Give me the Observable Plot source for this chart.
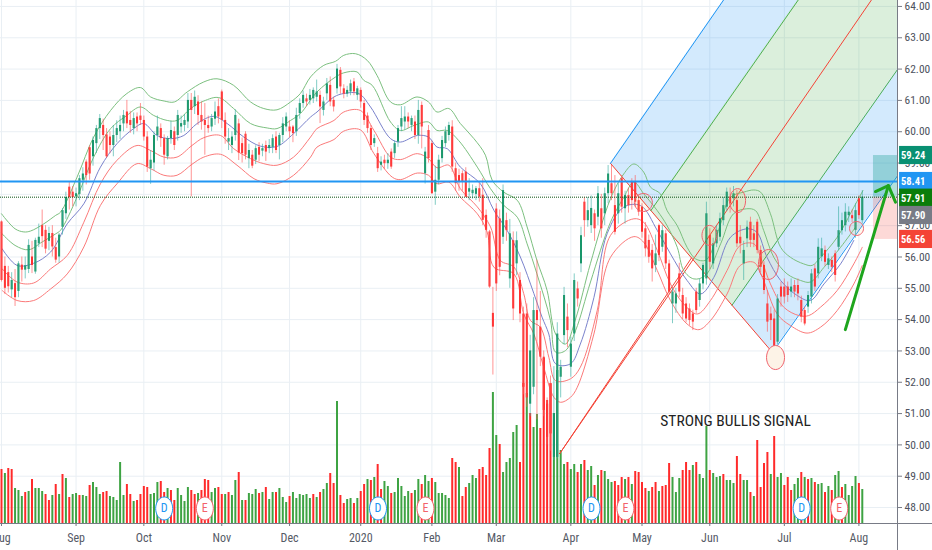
<!DOCTYPE html>
<html><head><meta charset="utf-8">
<script src="https://cdn.jsdelivr.net/npm/d3@7"></script>
<script src="https://cdn.jsdelivr.net/npm/@observablehq/plot@0.6"></script>
<style>html,body{margin:0;padding:0;background:#fff;overflow:hidden}svg{display:block}</style>
</head><body><div id="c"></div>
<script>
const tickIdx=[0,22,42,65,85,106,127,146,168,189,209,231,253];
const tickLabels=["Aug","Sep","Oct","Nov","Dec","2020","Feb","Mar","Apr","May","Jun","Jul","Aug"];
const priceTicks=[48,49,50,51,52,53,54,55,56,57,58,59,60,61,62,63,64];
const opens=[57.12,55.7,55.5,54.95,55.15,54.9,55.74,55.58,55.6,56.0,55.52,56.42,57.0,56.85,56.5,56.75,56.3,56.0,56.95,57.38,
58.23,58.07,57.92,58.0,58.45,59.03,59.49,59.2,59.62,60.1,60.2,59.9,59.83,59.56,59.88,60.0,60.25,60.63,60.36,60.1,
60.47,60.5,60.36,59.83,58.82,59.0,59.88,60.1,59.78,59.2,59.78,60.0,59.88,60.15,60.2,60.31,61.0,60.8,60.95,60.52,
60.36,60.2,60.15,60.4,60.8,61.27,60.36,59.67,59.56,59.88,60.25,59.62,59.92,59.14,59.25,59.09,59.5,59.38,59.56,59.46,
59.5,59.83,59.56,59.88,60.15,60.15,60.15,60.0,60.58,60.9,61.05,61.0,61.05,61.1,61.16,60.68,61.21,61.48,61.0,61.37,
61.96,61.37,61.2,61.27,61.59,61.16,61.32,60.9,60.5,60.1,59.62,59.3,58.93,59.09,58.98,59.35,59.3,59.67,60.15,60.31,
60.47,60.2,60.31,59.88,60.84,58.66,60.04,59.62,58.07,58.45,59.14,59.62,59.88,60.15,58.82,58.6,58.66,58.71,58.07,58.02,
58.0,58.18,57.97,57.33,56.8,54.2,57.53,57.22,56.63,57.16,55.3,56.52,55.78,55.25,54.18,54.18,51.3,51.84,54.29,53.76,
52.8,51.3,51.95,49.6,49.6,52.16,53.49,54.08,52.48,53.54,54.98,55.78,57.75,57.16,57.0,57.38,57.27,57.54,57.38,58.02,
58.34,57.64,57.38,58.5,57.54,57.96,58.39,58.39,57.8,57.59,56.9,56.53,56.21,55.73,57.0,56.31,56.74,55.78,54.5,54.5,
55.46,54.77,54.5,54.34,54.18,54.88,54.61,55.14,55.3,56.69,55.78,56.42,56.63,57.16,57.59,57.91,57.86,57.8,56.63,55.78,
56.58,57.11,56.74,57.11,56.21,55.73,54.5,54.18,54.02,53.28,55.04,55.04,55.04,54.88,55.09,55.09,54.61,54.29,54.4,54.72,
55.62,55.46,56.0,56.21,55.73,55.89,56.1,56.31,56.84,57.0,57.32,57.32,56.85,57.86,57.16];
const closes=[55.25,55.0,55.05,55.25,54.7,55.78,55.58,55.72,56.37,55.73,56.53,56.63,56.65,56.25,56.75,56.32,55.9,56.7,57.48,57.9,
57.9,57.9,58.02,58.5,58.65,58.6,58.65,59.72,60.1,60.42,59.88,59.2,59.56,59.88,60.1,60.2,60.52,60.25,60.2,60.42,
60.25,60.36,59.83,58.87,59.09,59.88,60.15,59.78,59.25,59.78,60.04,59.56,60.52,60.26,60.36,61.0,60.68,61.1,60.52,60.31,
60.2,60.1,60.42,60.63,60.47,60.36,59.83,59.78,59.83,60.52,59.32,59.3,59.25,59.4,58.9,59.46,59.25,59.46,59.35,59.56,
59.78,59.4,59.88,60.25,60.47,60.0,59.94,60.52,60.9,61.16,60.95,61.16,61.32,61.27,60.79,60.95,61.53,60.95,60.79,62.0,
61.43,61.2,61.32,61.53,61.27,61.37,60.95,60.36,60.1,59.56,59.78,58.82,59.03,58.98,59.09,58.87,59.62,60.1,60.42,60.47,
60.31,60.42,59.88,60.68,60.15,59.35,59.14,58.02,58.45,59.09,59.72,60.0,60.2,58.87,58.34,58.4,58.4,57.91,58.18,58.13,
58.18,57.91,57.17,56.85,55.04,53.76,55.14,55.67,58.12,56.84,56.74,54.34,56.52,54.18,51.84,51.5,53.0,54.29,53.97,52.8,
51.1,50.24,50.35,51.0,53.54,52.48,54.77,53.65,53.22,55.25,54.66,56.68,57.16,57.48,57.55,56.9,58.02,56.9,58.02,58.65,
58.02,56.79,58.02,57.59,57.96,57.64,57.8,57.75,57.43,56.79,56.26,55.99,55.62,56.1,56.05,56.84,55.78,54.88,54.88,54.82,
54.88,54.18,54.02,53.97,53.92,54.29,55.14,55.73,57.38,55.83,56.42,56.85,57.22,57.64,58.07,57.7,58.02,56.42,56.42,56.21,
56.95,56.53,56.53,56.21,55.67,54.93,53.92,53.97,53.12,54.66,54.72,54.72,54.77,55.04,54.88,54.82,54.08,53.86,54.77,55.46,
55.04,56.31,56.26,55.83,55.94,55.67,55.41,56.84,57.16,57.43,57.43,57.22,57.48,57.32,57.91];
const highs=[57.15,56.0,55.7,55.5,55.6,55.85,56.0,56.0,56.55,56.5,56.6,57.05,57.5,57.0,56.95,57.0,56.6,56.75,57.55,58.07,
58.4,58.25,58.2,58.6,58.85,59.1,59.55,59.83,60.2,60.55,60.4,60.1,60.0,60.2,60.35,60.5,60.68,61.0,60.65,60.6,
60.6,60.9,60.5,60.0,59.4,60.0,60.5,60.25,59.9,59.85,60.33,60.15,60.68,60.5,60.55,61.22,61.22,61.3,61.15,60.95,
60.9,60.5,60.55,60.95,61.05,61.33,60.6,60.1,60.0,60.7,60.4,59.8,60.0,59.6,59.4,59.55,59.65,59.6,59.7,59.75,
59.9,60.0,59.95,60.45,60.6,60.35,60.2,60.75,61.05,61.3,61.2,61.35,61.4,61.65,61.3,61.1,61.7,61.75,61.1,62.15,
62.05,61.5,61.45,61.65,61.7,61.45,61.4,61.0,60.6,60.2,59.9,59.5,59.2,59.25,59.3,59.45,59.7,60.2,60.8,60.8,
60.6,60.5,60.5,61.0,60.95,59.5,60.2,59.7,58.9,59.25,59.85,60.15,60.3,60.35,59.0,58.8,58.75,58.85,58.5,58.3,
58.25,58.35,58.5,57.5,56.85,55.03,57.7,57.5,58.3,57.4,57.2,56.8,56.8,55.5,54.4,54.5,53.5,54.7,55.9,54.9,
53.0,51.5,52.2,52.5,53.9,52.7,55.03,54.5,53.44,55.46,55.2,56.95,57.9,57.9,57.95,57.5,58.25,58.0,58.2,58.92,
58.92,58.6,58.34,58.6,58.1,58.2,58.5,58.6,57.9,57.7,57.1,56.7,56.4,56.7,57.05,57.0,56.85,55.9,55.0,55.0,
55.8,55.0,54.7,54.5,54.3,55.0,55.3,55.8,57.75,56.9,56.6,57.0,57.4,57.9,58.2,58.2,58.25,58.12,57.0,56.5,
57.15,57.27,57.0,57.2,56.35,55.85,54.93,54.4,54.3,54.8,55.2,55.3,55.2,55.3,55.25,55.3,54.75,54.4,54.9,55.6,
55.75,56.58,56.6,56.35,56.1,56.0,56.2,57.6,57.4,57.7,57.6,57.5,57.7,57.95,58.12];
const lows=[55.2,54.8,54.85,54.7,54.42,54.7,55.2,55.3,55.47,55.47,55.45,56.3,56.3,56.1,56.2,56.0,55.8,55.8,56.7,57.2,
57.5,57.6,57.6,57.8,58.1,58.3,58.45,58.9,59.3,59.75,59.4,59.15,59.3,59.2,59.65,59.75,60.0,60.1,59.95,59.9,
60.0,60.2,59.7,58.7,58.32,58.75,59.7,59.5,58.93,59.1,59.6,59.4,59.7,59.95,60.0,60.1,57.92,60.55,60.2,60.05,
59.25,59.95,60.0,60.2,60.25,60.1,59.6,59.4,59.3,59.7,59.08,59.0,59.1,58.82,58.82,58.95,59.05,59.2,59.05,59.3,
59.3,59.3,59.1,59.65,60.0,59.8,59.65,59.85,60.4,60.75,60.8,60.85,60.9,60.95,60.26,60.5,61.0,60.8,60.63,61.2,
61.2,61.05,61.1,61.15,61.15,61.0,60.75,60.2,59.95,59.4,59.5,58.7,58.75,58.8,58.8,58.8,59.15,59.5,60.0,60.05,
60.1,60.0,59.75,59.6,59.45,58.33,59.0,58.0,57.65,58.3,59.0,59.5,59.7,58.7,58.1,58.1,58.1,57.9,57.8,57.85,
57.8,57.75,57.0,56.6,55.0,52.23,54.9,55.4,56.4,56.5,55.0,53.97,55.4,53.9,51.6,51.2,50.9,51.6,50.8,52.5,
50.9,50.0,49.8,49.5,49.55,51.5,53.2,53.1,52.16,53.3,54.4,55.5,56.63,56.95,56.75,56.5,57.0,56.6,57.0,57.7,
57.8,56.7,57.05,57.4,57.05,57.4,57.5,57.6,57.3,56.6,56.0,55.8,55.2,55.5,55.85,56.15,55.6,54.8,53.87,54.2,
54.7,54.0,53.9,53.8,53.65,54.2,54.4,54.95,55.1,55.6,55.6,56.3,56.5,57.0,57.45,57.4,57.6,56.3,56.1,55.25,
56.3,56.3,56.3,56.1,55.5,54.8,53.6,53.33,52.95,53.2,54.4,54.5,54.55,54.7,54.7,54.6,53.9,53.8,54.2,54.5,
54.9,55.3,55.85,55.7,55.6,55.5,55.2,56.2,56.7,56.8,57.1,57.1,56.6,57.2,57.05];
const volumes=[54,50,55,54,35,33,27,31,32,44,35,35,32,29,23,28,39,29,49,45,26,29,30,28,28,27,38,41,36,29,31,32,27,26,23,61,28,39,29,22,23,29,37,36,29,30,41,42,31,35,33,23,35,28,22,36,33,29,30,33,44,43,31,35,36,29,29,31,28,43,51,23,23,30,29,34,30,31,36,24,31,31,35,26,21,27,31,25,29,28,29,25,
29,26,31,34,40,50,40,122,28,20,24,25,20,25,32,39,44,43,46,59,34,42,37,30,31,45,37,27,32,30,33,44,39,48,42,45,41,30,30,28,25,65,61,56,27,36,40,48,45,54,56,48,75,131,88,79,51,61,65,91,98,61,
140,130,110,96,109,95,165,123,140,110,153,73,59,61,54,59,51,59,63,53,57,38,48,53,52,44,41,42,38,
46,44,46,39,52,51,41,35,32,36,41,32,37,38,60,46,31,45,53,61,53,58,61,49,45,97,53,50,46,47,49,43,43,40,67,49,43,43,31,27,83,36,60,71,49,87,46,50,38,46,33,39,45,51,46,44,45,41,39,40,31,37,33,48,52,36,39,28,37,47,40,34];
const volumeDir=("rgrrgggrgrggg"+"rrgrgrgrgg"+"rggrgggrrgggg"+"grrgrrrrgggrrgrr"+"ggggrrgrrrggrrgrgg"+"rgrgggrgrggrgggrgggggg"
+"rgrggrrgrr"+"ggrgrrgrgr"+"rggrgggggr"+"ggrggrgggg"+"grrgrrgggr"+"rrrggrgggggr"+"rgrggrrrrgg"+"ggrggrgrggrgrgggrr"
+"rgrgrrrrgr"+"rgrrrgggrr"+"rgrgggrggg"+"rgggrrggrg"+"rrrrgrggrr"+"rggrgrgrgg"+"rgrggrgggg"+"rg").split("");
// Envelope lines: [bar index, price] vertices
const upperOuter=[[0,57.38],[4,56.9],[6.6,56.8],[8.6,56.83],[12.5,57.06],[16,57.33],[17.4,57.43],[22.3,58.55],[27.2,59.83],[32.2,60.68],[37,61.22],[41,61.41],[44,61.11],[48,60.98],[51,60.95],[54.8,61.27],[59.7,61.59],[63.6,61.69],[68.5,61.48],[73.5,60.95],[77.4,60.74],[81.3,60.7],[85.3,60.95],[88.2,61.22],[91.2,61.75],[95.1,62.12],[98.6,62.25],[101,62.44],[104.5,62.49],[107.9,62.28],[110.8,61.8],[114.8,60.95],[117.7,60.86],[122.6,61.11],[126,60.95],[128.5,60.63],[132,60.74],[135.4,60.26],[139.4,59.78],[142.8,59.25],[144.8,58.45],[148.2,58.07],[152.2,57.81],[155.1,56.96],[158,55.89],[161,54.93],[163.5,53.54],[166.4,53.22],[169.4,54.02],[173.8,55.8],[179.7,57.86],[183.6,58.65],[186.6,58.97],[189.5,58.71],[191.5,58.23],[194.4,58.02],[196.4,57.48],[199.4,57.0],[202.3,56.31],[204.8,55.94],[207.7,55.89],[209.2,56.1],[212.2,57.06],[215.1,57.91],[219,58.07],[222,58.14],[224,58.07],[226.9,57.38],[229.9,56.31],[232.8,55.99],[236.7,55.78],[239.2,55.73],[241.7,55.99],[246.6,56.63],[251.5,57.59],[254.2,58.12]];
const upperInner=[[0,56.76],[4,56.37],[8,56.23],[12,56.48],[16,56.74],[17.4,56.85],[22.3,57.91],[27.2,59.19],[32.2,60.1],[37,60.52],[41,60.79],[44.9,60.52],[48.9,60.36],[51.8,60.36],[55.8,60.74],[59.7,60.98],[64.1,61.09],[68.5,60.74],[73.5,60.26],[78.4,60.12],[81.3,60.1],[85.3,60.36],[88.2,60.58],[93.1,61.27],[98.6,61.75],[101,61.88],[104.9,61.91],[106.9,61.64],[109.4,61.48],[114.8,60.31],[117.7,60.04],[121.7,60.2],[126,60.31],[128.5,60.04],[131.5,60.04],[134.9,59.72],[140.4,58.87],[144.3,58.18],[148.2,57.65],[152.2,57.27],[155.1,56.42],[158,55.46],[162,53.97],[163.5,52.96],[166.4,53.01],[169.4,53.65],[173.8,55.2],[179.7,57.11],[183.6,57.9],[186.6,58.39],[189.5,58.02],[193.5,57.48],[196.4,57.0],[199.4,56.31],[201.3,55.57],[204.3,55.3],[207.7,55.41],[212.2,56.42],[216,57.38],[219.9,57.54],[222.5,57.48],[224.9,56.85],[227.9,55.99],[231.8,55.46],[235.8,55.25],[238.7,55.2],[242.7,55.67],[247.6,56.31],[252,56.95]];
const basis=[[0.2,56.26],[4.6,55.73],[9.5,55.8],[14.5,56.16],[19.4,57.06],[24.3,57.7],[29.2,58.87],[34.1,59.62],[39,60.1],[42,60.26],[45.9,59.88],[49.9,59.78],[53.8,59.88],[57.7,60.26],[62.6,60.49],[66.6,60.26],[71.5,59.83],[76.4,59.54],[81.3,59.53],[86.2,59.94],[91.2,60.47],[93.1,60.63],[98.1,61.11],[101,61.22],[105.4,61.22],[108.9,60.79],[114.8,59.78],[117.7,59.67],[122.7,59.88],[126,59.83],[128.5,59.51],[131.5,59.46],[135.4,58.87],[141.3,58.34],[145.3,57.49],[149.2,56.85],[153.1,56.0],[157.1,54.83],[159.5,54.08],[161.5,53.54],[163.5,52.59],[167.9,52.59],[170.8,53.22],[174.8,54.7],[178.7,56.74],[183.6,57.59],[188.6,57.64],[193.5,56.85],[197.4,56.1],[202.3,55.25],[206.3,54.82],[210.2,55.35],[215.1,56.63],[220,56.9],[222.9,56.79],[225.9,55.99],[229.9,55.25],[234.8,54.77],[238.7,54.61],[242.7,55.14],[247.6,55.78],[251.5,56.53]];
const lowerInner=[[0.2,55.62],[4.6,55.2],[9.5,55.17],[14.5,55.62],[19.4,56.05],[24.3,57.11],[29.2,58.34],[34.1,59.09],[40,59.56],[44,59.4],[47.9,59.19],[51.8,59.19],[56.2,59.56],[59.7,59.81],[64.6,59.88],[68.5,59.46],[73.5,59.14],[77.4,58.98],[81.3,58.93],[86.2,59.19],[91.2,59.83],[93.1,60.1],[98.1,60.36],[101,60.63],[105.9,60.68],[109.9,60.04],[114.8,59.19],[117.7,59.11],[122.7,59.3],[126,59.14],[128.5,58.85],[132,58.93],[135.4,58.18],[140.4,57.6],[144.3,56.96],[147.2,55.89],[151.2,55.68],[154.1,54.83],[156.1,53.97],[159,53.76],[161.5,52.8],[163.5,52.05],[167.9,52.11],[170.8,52.48],[175.8,54.3],[179.7,56.69],[186.6,57.22],[189.5,57.11],[193.5,56.21],[197.4,55.14],[201.3,54.5],[205.3,54.18],[209.2,54.61],[214.1,55.57],[218,56.37],[222,56.42],[224,55.99],[226.9,55.14],[230.8,54.4],[235.3,54.13],[238.2,54.13],[241.7,54.4],[246.6,54.93],[251.5,55.78],[254,56.31]];
const lowerOuter=[[0.2,54.93],[4.6,54.61],[9.5,54.61],[14.5,54.98],[19.4,55.46],[24.3,56.32],[29.2,57.65],[34.1,58.34],[40,58.98],[44,58.82],[47.9,58.61],[51.8,58.61],[56.2,58.96],[59.7,59.19],[64.6,59.28],[69.5,58.93],[74.5,58.5],[78.4,58.36],[81.3,58.34],[86.2,58.61],[91.2,59.19],[93.1,59.51],[98.1,59.75],[101,60.02],[105.9,60.06],[109.9,59.3],[115.3,58.55],[117.7,58.47],[122.7,58.68],[126,58.61],[128.5,58.34],[132,58.39],[135.4,57.91],[140.4,57.38],[143.3,56.8],[145.3,55.67],[151.2,55.46],[154.1,54.18],[157.1,53.54],[160,52.48],[163,51.52],[165,51.36],[167.9,51.52],[169.9,51.84],[174.8,53.54],[179.7,55.99],[186.6,56.65],[189.5,56.47],[193.5,55.57],[197.4,54.61],[202.3,53.86],[205.8,53.68],[209.2,53.97],[214.1,54.82],[218,55.73],[222,55.83],[224.5,55.35],[228.9,54.18],[232.8,53.81],[237.7,53.57],[241.7,53.76],[246.6,54.29],[251.5,55.14],[254,55.73]];
// Pitchfork: anchors and tine ends
const forkStem=[[164.7,49.72],[203.6,55.97]];
const forkBase=[[179.7,58.99],[227.5,52.95]];
const tineUpper=[[179.7,58.99],[270,73.1]];
const tineQ1=[[191.6,57.48],[270,69.6]];
const tineMedian=[[164.7,49.72],[270,66.3]];
const tineQ3=[[215.55,54.46],[270,62.85]];
const tineLower=[[227.5,52.95],[270,59.45]];
const bandA=[[179.7,58.99,58.99],[191.6,57.48,60.85],[270,69.6,73.1]];
const bandB=[[191.6,57.48,57.48],[215.55,54.46,61.2],[270,62.85,69.6]];
const bandC=[[215.55,54.46,54.46],[227.5,52.95,56.3],[270,59.45,62.85]];
const ellipses=[[189.4,57.74,9,9],[208.9,56.69,7.5,10],[217.2,57.8,8,12],[226.3,55.76,10,15],[252.3,56.91,7,7]];
const lowEllipse=[228.4,52.79,9,12];
const events=[[48,"D"],[60,"E"],[111.1,"D"],[125.1,"E"],[174.1,"D"],[184.1,"E"],[236.1,"D"],[247.2,"E"]];
const arrowShaft=[[249,53.68],[261.7,58.28]];
const arrowHead=[[257.9,58.09],[261.7,58.28],[263.8,57.75]];
const tags=[["59.24",59.24,0,"#089072"],["58.41",58.41,0,"#2196f3"],["57.91",57.91,1,"#0a7d0a"],["57.90",57.90,18,"#787b86"],["56.56",56.56,0,"#f44336"]];
const resistance=58.41, lastPrice=57.91, target=59.24, stop=56.56;

if([closes,highs,lows,volumes,volumeDir].some(a=>a.length!==opens.length)) throw new Error("len "+[opens,closes,highs,lows,volumes,volumeDir].map(a=>a.length));

const bars=opens.map((o,i)=>({i,o,c:closes[i],h:highs[i],l:lows[i],v:volumes[i],d:volumeDir[i]}));
const up=bars.filter(b=>b.c>=b.o), dn=bars.filter(b=>b.c<b.o);
const xLeft=-0.295, xRight=264.39, yBottom=47.49, yTop=64.19, volUnit=1/31.3125;
const pt={x:d=>d[0],y:d=>d[1]};
const ellipse=(rx,ry)=>({draw(c){const k=.5523,X=rx,Y=ry;c.moveTo(X,0);c.bezierCurveTo(X,k*Y,k*X,Y,0,Y);c.bezierCurveTo(-k*X,Y,-X,k*Y,-X,0);c.bezierCurveTo(-X,-k*Y,-k*X,-Y,0,-Y);c.bezierCurveTo(k*X,-Y,X,-k*Y,X,0);c.closePath();}});
const envLine=(pts,stroke)=>Plot.line(pts,{...pt,stroke,strokeWidth:1,curve:"catmull-rom",clip:true});
const band=(pts,fill)=>Plot.areaY(pts,{x:d=>d[0],y1:d=>d[1],y2:d=>d[2],fill,fillOpacity:.2,clip:true});
const tine=(pts,stroke)=>Plot.line(pts,{...pt,stroke,strokeWidth:1,clip:true});
const font='"Liberation Sans Narrow","Roboto Condensed","Open Sans",sans-serif';
const chart=Plot.plot({
  width:932,height:550,marginLeft:0,marginRight:35,marginTop:0,marginBottom:27,
  style:{fontFamily:font,fontSize:"11px",background:"#fff",overflow:"hidden"},
  x:{domain:[xLeft,xRight],axis:null},
  y:{domain:[yBottom,yTop],axis:null},
  marks:[
    Plot.ruleY(priceTicks,{stroke:"#e9eff4",strokeWidth:1}),
    Plot.ruleX(tickIdx,{stroke:"#e9eff4",strokeWidth:1}),
    band(bandA,"#2196f3"),band(bandB,"#4caf50"),band(bandC,"#2196f3"),
    Plot.ruleX(bars.filter(b=>b.d==="g"),{x:"i",y1:yBottom,y2:b=>yBottom+b.v*volUnit,stroke:"#3ea343",strokeWidth:2}),
    Plot.ruleX(bars.filter(b=>b.d==="r"),{x:"i",y1:yBottom,y2:b=>yBottom+b.v*volUnit,stroke:"#ff2a2a",strokeWidth:2}),
    tine(forkStem,"#f44336"),tine(forkBase,"#f44336"),tine(tineMedian,"#f44336"),
    tine(tineUpper,"#2196f3"),tine(tineLower,"#2196f3"),tine(tineQ1,"#4caf50"),tine(tineQ3,"#4caf50"),
    Plot.rect([0],{x1:257.3,x2:xRight,y1:lastPrice,y2:target,fill:"#009688",fillOpacity:.3}),
    Plot.rect([0],{x1:257.3,x2:xRight,y1:stop,y2:lastPrice,fill:"#f44336",fillOpacity:.2}),
    envLine(upperOuter,"#7cc07f"),envLine(upperInner,"#7cc07f"),envLine(basis,"#7a82cc"),envLine(lowerInner,"#fb7a7a"),envLine(lowerOuter,"#fb7a7a"),
    Plot.ruleX(up,{x:"i",y1:"o",y2:"c",stroke:"#078a4e",strokeWidth:2}),
    Plot.ruleX(dn,{x:"i",y1:"o",y2:"c",stroke:"#ff1f1f",strokeWidth:2}),
    Plot.ruleX(up,{x:"i",y1:"l",y2:"h",stroke:"#3fb0a6",strokeWidth:1,strokeOpacity:.65}),
    Plot.ruleX(dn,{x:"i",y1:"l",y2:"h",stroke:"#ff5a5a",strokeWidth:1,strokeOpacity:.65}),
    Plot.ruleY([resistance],{x1:xLeft,x2:xRight,stroke:"#2196f3",strokeWidth:2}),
    Plot.ruleY([lastPrice],{x1:xLeft,x2:xRight,stroke:"#0a4f12",strokeWidth:1,strokeDasharray:"1 1"}),
    ...ellipses.map(e=>Plot.dot([e],{...pt,r:6,symbol:ellipse(e[2],e[3]),stroke:"#f0636d",strokeWidth:1,fill:"#ff9800",fillOpacity:.07})),
    Plot.dot([lowEllipse],{...pt,r:6,symbol:ellipse(lowEllipse[2],lowEllipse[3]),stroke:"#f0636d",strokeWidth:1,fill:"#fdf3e7"}),
    Plot.line(arrowShaft,{...pt,stroke:"#1da51d",strokeWidth:3}),
    Plot.line(arrowHead,{...pt,stroke:"#1da51d",strokeWidth:3}),
    Plot.text(["STRONG BULLIS SIGNAL"],{x:216.6,y:50.75,text:d=>d,fontSize:15.5,fill:"#222"}),
    Plot.dot(events.filter(e=>e[1]==="D"),{x:d=>d[0],y:47.97,r:6,symbol:ellipse(8.5,11.5),fill:"#fff",stroke:"#2196f3",strokeWidth:1}),
    Plot.dot(events.filter(e=>e[1]==="E"),{x:d=>d[0],y:47.97,r:6,symbol:ellipse(8.5,11.5),fill:"#fff",stroke:"#f2636b",strokeWidth:1}),
    Plot.text(events.filter(e=>e[1]==="D"),{x:d=>d[0],y:47.97,text:d=>d[1],fill:"#2196f3",fontSize:12}),
    Plot.text(events.filter(e=>e[1]==="E"),{x:d=>d[0],y:47.97,text:d=>d[1],fill:"#f2636b",fontSize:12}),
    Plot.axisX({ticks:tickIdx,tickFormat:d=>tickLabels[tickIdx.indexOf(d)],tickSize:3,tickPadding:7,stroke:"#787b86",fill:"#555a66",label:null,fontSize:12}),
    Plot.axisY({anchor:"right",ticks:priceTicks,tickFormat:d=>d.toFixed(2),tickSize:4,tickPadding:3,stroke:"#787b86",fill:"#4e525e",label:null,fontSize:11.5}),
    Plot.ruleX([xRight],{y1:46.6,y2:yTop,stroke:"#787b86",strokeWidth:1}),
    Plot.ruleY([yBottom],{x1:xLeft,x2:276,stroke:"#787b86",strokeWidth:1}),
    ...tags.map(t=>Plot.rect([t],{x1:265,x2:277,y1:d=>d[1]-.29,y2:d=>d[1]+.29,fill:t[3],dy:t[2]})),
    ...tags.map(t=>Plot.text([t],{x:269,y:d=>d[1],text:d=>d[0],fill:"#fff",fontWeight:"bold",fontSize:10.5,dy:t[2]}))
  ]
});
document.getElementById("c").appendChild(chart);
</script>
</body></html>
